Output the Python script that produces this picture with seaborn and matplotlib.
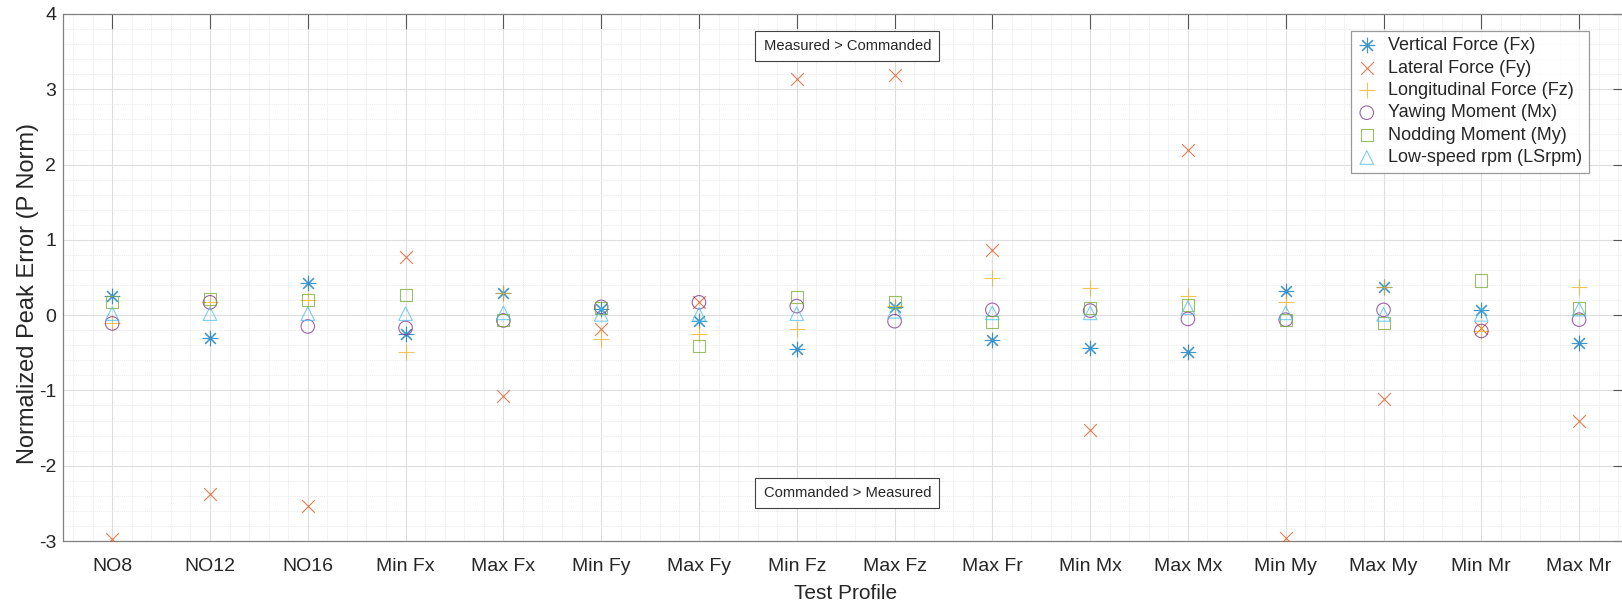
import numpy as np
import pandas as pd
import matplotlib
matplotlib.use("Agg")
import matplotlib.pyplot as plt
import seaborn as sns
from matplotlib.ticker import MultipleLocator

# ---------------- data ----------------
categories = ["NO8", "NO12", "NO16", "Min Fx", "Max Fx", "Min Fy", "Max Fy", "Min Fz",
              "Max Fz", "Max Fr", "Min Mx", "Max Mx", "Min My", "Max My", "Min Mr", "Max Mr"]

vertical_fx = [0.25, -0.31, 0.43, -0.25, 0.30, 0.08, -0.08, -0.45,
               0.11, -0.33, -0.43, -0.49, 0.32, 0.38, 0.07, -0.37]
lateral_fy = [-2.97, -2.38, -2.53, 0.77, -1.08, -0.19, 0.17, 3.14,
              3.19, 0.86, -1.52, 2.20, -2.96, -1.11, -0.17, -1.40]
longitudinal_fz = [-0.11, 0.17, 0.20, -0.49, 0.30, -0.32, -0.25, -0.18,
                   0.12, 0.49, 0.36, 0.25, 0.17, 0.38, -0.21, 0.38]
yawing_mx = [-0.11, 0.17, -0.15, -0.17, -0.07, 0.11, 0.17, 0.12,
             -0.08, 0.07, 0.06, -0.05, -0.06, 0.07, -0.21, -0.06]
nodding_my = [0.17, 0.21, 0.20, 0.27, -0.07, 0.10, -0.41, 0.24,
              0.18, -0.09, 0.10, 0.14, -0.06, -0.10, 0.46, 0.10]
lowspeed_rpm = [0.02, 0.02, 0.02, 0.02, 0.03, 0.01, 0.01, 0.02,
                0.05, 0.03, 0.03, 0.10, 0.03, 0.01, 0.01, 0.08]

series_names = ["Vertical Force (Fx)", "Lateral Force (Fy)", "Longitudinal Force (Fz)",
                "Yawing Moment (Mx)", "Nodding Moment (My)", "Low-speed rpm (LSrpm)"]
series_values = [vertical_fx, lateral_fy, longitudinal_fz, yawing_mx, nodding_my, lowspeed_rpm]

y_ticks = [-3, -2, -1, 0, 1, 2, 3, 4]
note_top = "Measured > Commanded"
note_bottom = "Commanded > Measured"

# ---------------- style ----------------
sns.set_style("white")
plt.rcParams["font.family"] = ["Liberation Sans", "DejaVu Sans"]

colors = ["#0072BD", "#D95319", "#EDB120", "#7E2F8E", "#77AC30", "#4DBEEE"]
markers = [(8, 2, 0), "x", "+", "o", "s", "^"]
sizes = [110, 85, 120, 95, 75, 95]
filled = [False, False, False, True, True, True]

fig = plt.figure(figsize=(16.22, 6.03), dpi=100)
W, H = 1622, 603
ax = fig.add_axes([63.3 / W, (H - 541) / H, (1628 - 63.3) / W, (541 - 14) / H])

for name, vals, c, m, s, f in zip(series_names, series_values, colors, markers, sizes, filled):
    df = pd.DataFrame({"Test Profile": categories, "value": vals})
    if f:
        sns.scatterplot(data=df, x="Test Profile", y="value", ax=ax, marker=m, s=s,
                        facecolor="none", edgecolor=c, linewidth=0.8, alpha=0.75,
                        label=name, zorder=3)
    else:
        sns.scatterplot(data=df, x="Test Profile", y="value", ax=ax, marker=m, s=s,
                        color=c, linewidth=0.8, alpha=0.75, label=name, zorder=3)

ax.set_xlim(-0.5, 15.5)
ax.set_ylim(-3, 4)
ax.set_yticks(y_ticks)
ax.set_yticklabels([str(t) for t in y_ticks])
ax.xaxis.set_minor_locator(MultipleLocator(0.2))
ax.yaxis.set_minor_locator(MultipleLocator(0.2))

ax.grid(which="major", color="#dedede", linewidth=0.8, zorder=0)
ax.grid(which="minor", color="#e9e9e9", linewidth=0.6, linestyle=(0, (1.5, 1)), zorder=0)
ax.set_axisbelow(True)

for sp in ax.spines.values():
    sp.set_color("#808080")
    sp.set_linewidth(0.9)

ax.tick_params(which="major", direction="in", length=11, width=0.8, color="#555555",
               top=True, right=True, labelsize=14, labelcolor="#262626")
ax.tick_params(axis="x", which="major", pad=12)
ax.tick_params(axis="y", which="major", pad=5)
ax.tick_params(which="minor", length=0)

ax.set_xlabel("Test Profile", fontsize=15, color="#262626", labelpad=7)
ax.set_ylabel("Normalized Peak Error (P Norm)", fontsize=17, color="#262626", labelpad=0)
ax.yaxis.label.set_y(0.47)

box = dict(boxstyle="square,pad=0.55", facecolor="white", edgecolor="#404040", linewidth=0.8)
ax.text(6.66, 3.57, note_top, ha="left", va="center", fontsize=10.6, color="#262626",
        bbox=box, zorder=5)
ax.text(6.66, -2.36, note_bottom, ha="left", va="center", fontsize=10.6, color="#262626",
        bbox=box, zorder=5)

leg = ax.legend(loc="upper right", bbox_to_anchor=(0.975, 0.968), borderaxespad=0,
                fontsize=13, frameon=True, fancybox=False, edgecolor="#808080",
                labelspacing=0.3, handlelength=1.0, handletextpad=0.7, borderpad=0.35)
leg.get_frame().set_linewidth(0.9)
for t in leg.get_texts():
    t.set_color("#262626")

fig.savefig("out.png", dpi=100, facecolor="white")
